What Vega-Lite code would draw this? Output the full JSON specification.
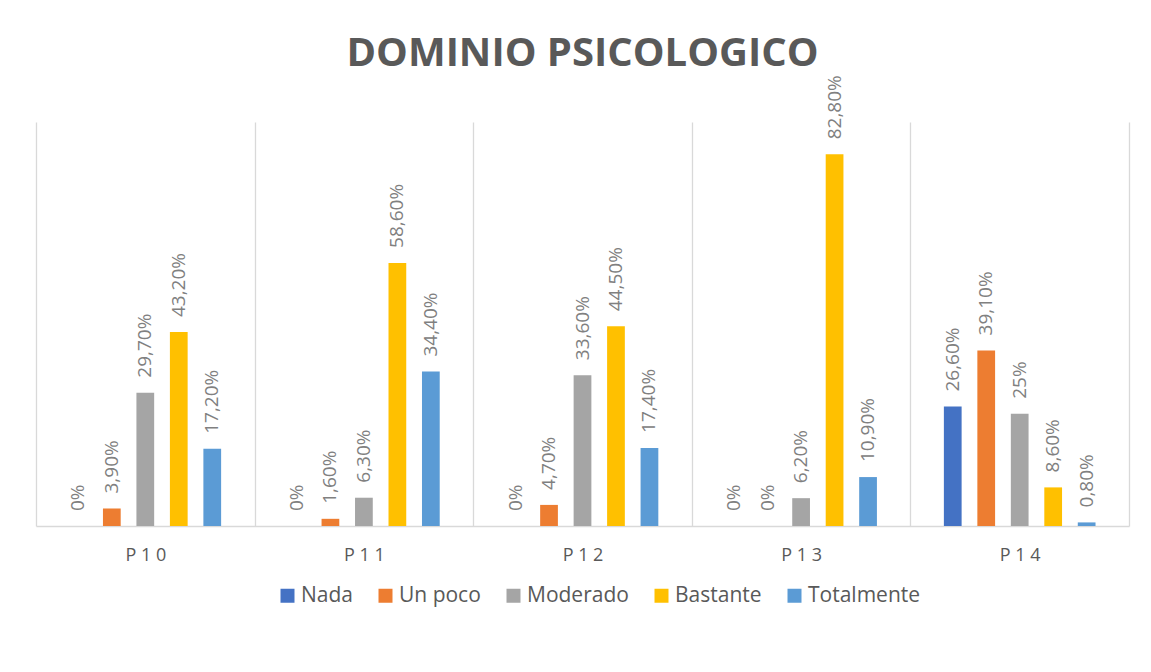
{
  "$schema": "https://vega.github.io/schema/vega-lite/v6.json",
  "width": 1093,
  "height": 404,
  "autosize": "none",
  "padding": {"left": 36, "top": 122, "right": 22, "bottom": 146},
  "background": "white",
  "title": {
    "text": "DOMINIO PSICOLOGICO",
    "font": "Open Sans",
    "fontSize": 40,
    "fontWeight": "bold",
    "color": "#595959",
    "anchor": "middle",
    "frame": "group",
    "baseline": "alphabetic",
    "offset": -31
  },
  "config": {
    "view": {"stroke": null},
    "legend": {
      "orient": "none",
      "legendX": 241,
      "legendY": 463,
      "direction": "horizontal",
      "symbolType": "square",
      "symbolSize": 196,
      "symbolStrokeWidth": 0,
      "labelFont": "Open Sans",
      "labelFontSize": 21,
      "labelColor": "#595959",
      "labelOffset": 3,
      "columnPadding": 22,
      "title": null
    }
  },
  "data": {
    "values": [
      {"q": "P10", "cat": "Nada", "value": 0},
      {"q": "P10", "cat": "Un poco", "value": 3.9},
      {"q": "P10", "cat": "Moderado", "value": 29.7},
      {"q": "P10", "cat": "Bastante", "value": 43.2},
      {"q": "P10", "cat": "Totalmente", "value": 17.2},
      {"q": "P11", "cat": "Nada", "value": 0},
      {"q": "P11", "cat": "Un poco", "value": 1.6},
      {"q": "P11", "cat": "Moderado", "value": 6.3},
      {"q": "P11", "cat": "Bastante", "value": 58.6},
      {"q": "P11", "cat": "Totalmente", "value": 34.4},
      {"q": "P12", "cat": "Nada", "value": 0},
      {"q": "P12", "cat": "Un poco", "value": 4.7},
      {"q": "P12", "cat": "Moderado", "value": 33.6},
      {"q": "P12", "cat": "Bastante", "value": 44.5},
      {"q": "P12", "cat": "Totalmente", "value": 17.4},
      {"q": "P13", "cat": "Nada", "value": 0},
      {"q": "P13", "cat": "Un poco", "value": 0},
      {"q": "P13", "cat": "Moderado", "value": 6.2},
      {"q": "P13", "cat": "Bastante", "value": 82.8},
      {"q": "P13", "cat": "Totalmente", "value": 10.9},
      {"q": "P14", "cat": "Nada", "value": 26.6},
      {"q": "P14", "cat": "Un poco", "value": 39.1},
      {"q": "P14", "cat": "Moderado", "value": 25},
      {"q": "P14", "cat": "Bastante", "value": 8.6},
      {"q": "P14", "cat": "Totalmente", "value": 0.8}
    ]
  },
  "transform": [
    {"calculate": "datum.value % 1 == 0 ? datum.value + '%' : replace(format(datum.value, '.2f'), '.', ',') + '%'", "as": "label"}
  ],
  "encoding": {
    "x": {
      "field": "q",
      "type": "nominal",
      "scale": {"paddingInner": 0, "paddingOuter": 0},
      "axis": {
        "title": null,
        "labelExpr": "join(split(datum.label, ''), ' ')",
        "labelFont": "Open Sans",
        "labelFontSize": 18,
        "labelColor": "#595959",
        "labelAngle": 0,
        "ticks": false,
        "tickSize": 0,
        "labelPadding": 20,
        "domainColor": "#d9d9d9",
        "domainWidth": 1.5,
        "grid": true,
        "gridColor": "#d9d9d9",
        "gridWidth": 1.3,
        "tickBand": "extent"
      }
    },
    "xOffset": {
      "field": "cat",
      "type": "nominal",
      "sort": ["Nada", "Un poco", "Moderado", "Bastante", "Totalmente"],
      "scale": {"paddingInner": 0.47, "paddingOuter": 1.15}
    },
    "y": {
      "field": "value",
      "type": "quantitative",
      "scale": {"domain": [0, 90], "nice": false},
      "axis": null
    }
  },
  "layer": [
    {
      "mark": {"type": "bar"},
      "encoding": {
        "color": {
          "field": "cat",
          "type": "nominal",
          "sort": ["Nada", "Un poco", "Moderado", "Bastante", "Totalmente"],
          "scale": {
            "domain": ["Nada", "Un poco", "Moderado", "Bastante", "Totalmente"],
            "range": ["#4472C4", "#ED7D31", "#A5A5A5", "#FFC000", "#5B9BD5"]
          }
        }
      }
    },
    {
      "mark": {
        "type": "text",
        "angle": 270,
        "align": "left",
        "baseline": "middle",
        "dx": 15,
        "font": "Open Sans",
        "fontSize": 19,
        "color": "#808080"
      },
      "encoding": {
        "text": {"field": "label", "type": "nominal"}
      }
    }
  ]
}
